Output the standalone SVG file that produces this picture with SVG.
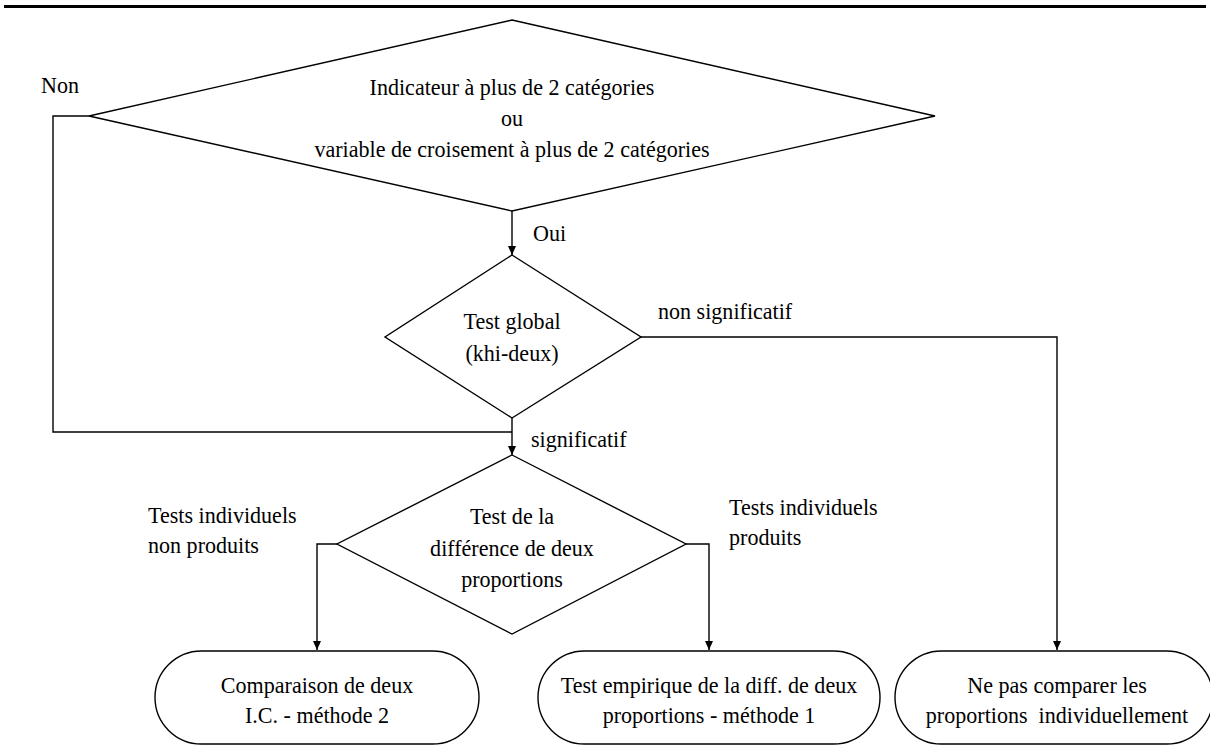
<svg xmlns="http://www.w3.org/2000/svg" width="1210" height="749" viewBox="0 0 1210 749">
  <style>
    .shape { fill: #ffffff; stroke: #000000; stroke-width: 1.4; }
    .wire { fill: none; stroke: #000000; stroke-width: 1.4; }
    .lbl { font-family: "Liberation Serif", "Times New Roman", serif; font-size: 24px; fill: #000000; }
    .c { text-anchor: middle; }
  </style>
  <defs>
    <marker id="arrow" markerUnits="userSpaceOnUse" markerWidth="9" markerHeight="8" refX="9" refY="4" orient="auto">
      <path d="M0,0 L9,4 L0,8 z" fill="#000000"/>
    </marker>
  </defs>

  <rect width="1210" height="749" fill="#ffffff"/>
  <!-- header rule -->
  <rect x="4" y="5" width="1202" height="3" fill="#000000"/>

  <!-- connectors and their labels (labels narrowed to 92% width) -->
  <g id="connectors">
    <path class="wire" d="M89,116 H53 V432 H512"/>
    <path class="wire" d="M512,211 V255" marker-end="url(#arrow)"/>
    <path class="wire" d="M512,418 V455" marker-end="url(#arrow)"/>
    <path class="wire" d="M641,337 H1057 V650" marker-end="url(#arrow)"/>
    <path class="wire" d="M337,544 H317 V650" marker-end="url(#arrow)"/>
    <path class="wire" d="M686,544 H709 V650" marker-end="url(#arrow)"/>
    <text class="lbl" transform="translate(41,93) scale(0.92,1)">Non</text>
    <text class="lbl" transform="translate(533,241) scale(0.92,1)">Oui</text>
    <text class="lbl" transform="translate(658,319) scale(0.92,1)">non significatif</text>
    <text class="lbl" transform="translate(531,447) scale(0.92,1)">significatif</text>
    <text class="lbl" transform="translate(148,523) scale(0.92,1)">Tests individuels</text>
    <text class="lbl" transform="translate(148,553) scale(0.92,1)">non produits</text>
    <text class="lbl" transform="translate(729,515) scale(0.92,1)">Tests individuels</text>
    <text class="lbl" transform="translate(729,545) scale(0.92,1)">produits</text>
  </g>

  <!-- decision: number of categories -->
  <g id="d-categories">
    <polygon class="shape" points="512,20 935,116 512,211 89,116"/>
    <text class="lbl c" transform="translate(512,95) scale(0.92,1)">Indicateur à plus de 2 catégories</text>
    <text class="lbl c" transform="translate(512,126) scale(0.92,1)">ou</text>
    <text class="lbl c" transform="translate(512,157) scale(0.92,1)">variable de croisement à plus de 2 catégories</text>
  </g>

  <!-- decision: global chi-square test -->
  <g id="d-global">
    <polygon class="shape" points="512,255 641,337 512,418 385,337"/>
    <text class="lbl c" transform="translate(512,329) scale(0.92,1)">Test global</text>
    <text class="lbl c" transform="translate(512,361) scale(0.92,1)">(khi-deux)</text>
  </g>

  <!-- decision: difference of two proportions -->
  <g id="d-difference">
    <polygon class="shape" points="512,455 686,544 512,634 337,544"/>
    <text class="lbl c" transform="translate(512,524) scale(0.92,1)">Test de la</text>
    <text class="lbl c" transform="translate(512,556) scale(0.92,1)">différence de deux</text>
    <text class="lbl c" transform="translate(512,587) scale(0.92,1)">proportions</text>
  </g>

  <!-- terminal: method 2 -->
  <g id="t-methode2">
    <rect class="shape" x="155" y="651" width="324" height="93" rx="46.5" ry="46.5"/>
    <text class="lbl c" transform="translate(317,693) scale(0.92,1)">Comparaison de deux</text>
    <text class="lbl c" transform="translate(317,723) scale(0.92,1)">I.C. - méthode 2</text>
  </g>

  <!-- terminal: method 1 -->
  <g id="t-methode1">
    <rect class="shape" x="538" y="651" width="342" height="93" rx="46.5" ry="46.5"/>
    <text class="lbl c" transform="translate(709,693) scale(0.92,1)">Test empirique de la diff. de deux</text>
    <text class="lbl c" transform="translate(709,723) scale(0.92,1)">proportions - méthode 1</text>
  </g>

  <!-- terminal: no comparison -->
  <g id="t-aucune">
    <rect class="shape" x="895" y="651" width="318" height="93" rx="46.5" ry="46.5"/>
    <text class="lbl c" transform="translate(1057,693) scale(0.92,1)">Ne pas comparer les</text>
    <text class="lbl c" transform="translate(1057,723) scale(0.92,1)" xml:space="preserve">proportions  individuellement</text>
  </g>
</svg>
